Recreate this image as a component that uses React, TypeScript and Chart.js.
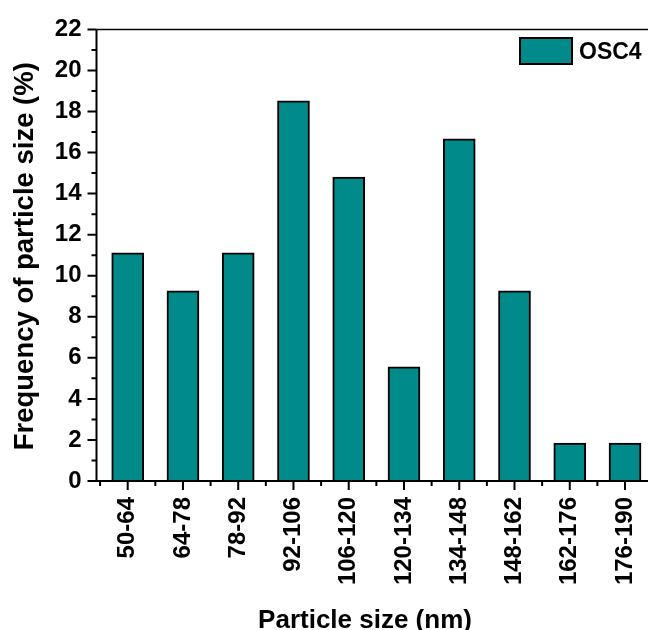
import { useEffect, useRef } from "react";
import { Chart, registerables } from "chart.js";

Chart.register(...registerables);

// Size classes and their share of particles (%)
const categories = [
  "50-64", "64-78", "78-92", "92-106", "106-120",
  "120-134", "134-148", "148-162", "162-176", "176-190",
];
const frequency = [11.11, 9.26, 11.11, 18.52, 14.81, 5.56, 16.67, 9.26, 1.85, 1.85];
const seriesName = "OSC4";
const yTickValues = [0, 2, 4, 6, 8, 10, 12, 14, 16, 18, 20, 22];
const xTitle = "Particle size (nm)";
const yTitle = "Frequency of particle size (%)";

const FONT = "'Liberation Sans', Arial, sans-serif";
const BAR_FILL = "#008B8A";

const axisPlugin = {
  id: "originAxes",
  afterDatasetsDraw(chart: any) {
    const { ctx, chartArea, scales } = chart;
    const xs = scales.x;
    const ys = scales.y;
    const left = chartArea.left;
    const bottom = chartArea.bottom;
    const top = chartArea.top;
    const W = chart.width;
    ctx.save();
    ctx.strokeStyle = "#000";
    ctx.lineCap = "butt";

    // frame: left axis, bottom axis, top line
    ctx.lineWidth = 2;
    ctx.beginPath();
    ctx.moveTo(left, bottom + 1);
    ctx.lineTo(left, top);
    ctx.moveTo(left - 1, bottom);
    ctx.lineTo(W, bottom);
    ctx.stroke();
    ctx.lineWidth = 1.5;
    ctx.beginPath();
    ctx.moveTo(left, top);
    ctx.lineTo(W, top);
    ctx.stroke();

    // y ticks: major every 2, minor in between
    ctx.lineWidth = 2;
    ctx.beginPath();
    for (let v = ys.min; v <= ys.max; v += 1) {
      const py = ys.getPixelForValue(v);
      const len = v % 2 === 0 ? 9 : 5;
      ctx.moveTo(left - len, py);
      ctx.lineTo(left, py);
    }
    // x ticks: major on each class, minor on class boundaries
    for (let i = 0; i <= categories.length; i++) {
      const minor = xs.getPixelForValue(i + 0.5);
      if (minor > left + 1 && minor < W) {
        ctx.moveTo(minor, bottom);
        ctx.lineTo(minor, bottom + 5);
      }
      if (i < categories.length) {
        const major = xs.getPixelForValue(i + 1);
        ctx.moveTo(major, bottom);
        ctx.lineTo(major, bottom + 9);
      }
    }
    ctx.stroke();

    // axis titles
    ctx.fillStyle = "#000";
    ctx.font = `bold 26px ${FONT}`;
    ctx.textAlign = "center";
    ctx.textBaseline = "alphabetic";
    ctx.fillText(xTitle, 365, 628);

    ctx.font = `bold 27.5px ${FONT}`;
    ctx.translate(32.5, (top + bottom) / 2 + 1);
    ctx.rotate(-Math.PI / 2);
    ctx.fillText(yTitle, 0, 0);
    ctx.restore();

    // legend
    const ds = chart.data.datasets[0];
    ctx.save();
    ctx.fillStyle = ds.backgroundColor;
    ctx.fillRect(520, 38, 52, 26);
    ctx.strokeStyle = "#000";
    ctx.lineWidth = 2;
    ctx.strokeRect(520, 38, 52, 26);
    ctx.fillStyle = "#000";
    ctx.font = `bold 23px ${FONT}`;
    ctx.textAlign = "left";
    ctx.textBaseline = "alphabetic";
    ctx.fillText(ds.label, 579, 59);
    ctx.restore();
  },
};

export default function App() {
  const canvasRef = useRef<HTMLCanvasElement | null>(null);

  useEffect(() => {
    const canvas = canvasRef.current;
    if (!canvas) return;
    const chart = new Chart(canvas, {
      type: "bar",
      data: {
        datasets: [
          {
            label: seriesName,
            data: frequency.map((v, i) => ({ x: i + 1, y: v })),
            backgroundColor: BAR_FILL,
            borderColor: "#000",
            borderWidth: 2,
            barThickness: 32,
          },
        ],
      },
      options: {
        responsive: false,
        animation: false,
        devicePixelRatio: 1,
        layout: { padding: { top: 26, left: 0, right: 0, bottom: 0 } },
        plugins: {
          legend: { display: false },
          tooltip: { enabled: false },
        },
        scales: {
          x: {
            type: "linear",
            offset: false,
            min: 0.4353,
            max: 10.416,
            grid: { display: false, drawTicks: false },
            border: { display: false },
            afterBuildTicks: (scale: any) => {
              scale.ticks = categories.map((_, i) => ({ value: i + 1 }));
            },
            afterFit: (scale: any) => {
              scale.height = 149;
              scale.paddingLeft = 0;
              scale.paddingRight = 0;
            },
            ticks: {
              autoSkip: false,
              minRotation: 90,
              maxRotation: 90,
              padding: 16,
              color: "#000",
              font: { family: FONT, size: 24, weight: "bold" },
              callback: (value: any) => categories[Number(value) - 1] ?? "",
            },
          },
          y: {
            min: 0,
            max: 22,
            grid: { display: false, drawTicks: false },
            border: { display: false },
            afterBuildTicks: (scale: any) => {
              scale.ticks = yTickValues.map((v) => ({ value: v }));
            },
            afterFit: (scale: any) => {
              scale.width = 96.5;
            },
            ticks: {
              padding: 15,
              color: "#000",
              font: { family: FONT, size: 24, weight: "bold" },
            },
          },
        },
      },
      plugins: [axisPlugin],
    });
    return () => chart.destroy();
  }, []);

  return (
    <div style={{ position: "fixed", left: 0, top: 0, width: 648, height: 630, background: "#fff" }}>
      <canvas ref={canvasRef} width={648} height={630} style={{ width: 648, height: 630 }} />
    </div>
  );
}
